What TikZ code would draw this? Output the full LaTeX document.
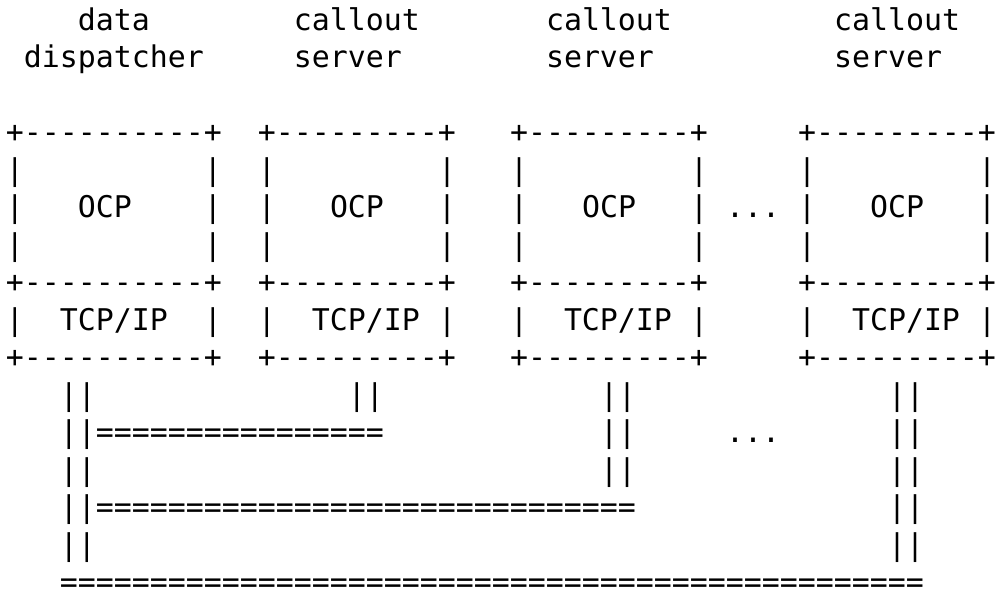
\documentclass[tikz,border=0pt]{standalone}
\usepackage{fontspec}
\setmonofont{DejaVu Sans Mono}
\usepackage{tikz}
\newcommand{\asciifont}{\fontsize{14.95}{18.75}\selectfont\ttfamily}

\begin{document}
\begin{tikzpicture}[x=9pt, y=-18.75pt]
        \tikzstyle{every node}=[anchor=base west, inner sep=0pt, outer sep=0pt, font=\asciifont]
        \useasboundingbox (-0.3333,-0.8) rectangle (55.1111,15.0667);
        % headings
        \node (dd-name1) at (4,0) {data};
        \node (dd-name2) at (1,1) {dispatcher};
        \foreach \n/\L in {csa/14, csb/28, csc/44} {
            \node (\n-name1) at ({\L+2},0) {callout};
            \node (\n-name2) at ({\L+2},1) {server};
        }
        % boxes
        \foreach \n/\L/\R/\bar in {dd/0/11/{+----------+}, csa/14/24/{+---------+}, csb/28/38/{+---------+}, csc/44/54/{+---------+}} {
            \foreach \r in {3,7,9}
                \node (\n-t\r) at (\L,\r) {\bar};
            \foreach \r in {4,5,6,8} {
                \node (\n-l\r) at (\L,\r) {|};
                \node (\n-r\r) at (\R,\r) {|};
            }
            \node (\n-ocp) at ({\L+4},5) {OCP};
            \node (\n-tcp) at ({\L+3},8) {TCP/IP};
        }
        \node (dots1) at (40,5) {...};
        % wires
        \foreach \c/\a/\b in {3/10/14, 19/10/10, 33/10/12, 49/10/14}
            \foreach \r in {\a,...,\b}
                \node (w\c-\r) at (\c,\r) {||};
        \node (bus1) at (5,11) {================};
        \node (bus2) at (5,13) {==============================};
        \node (bus3) at (3,15) {================================================};
        \node (dots2) at (40,11) {...};
    \end{tikzpicture}
\end{document}
